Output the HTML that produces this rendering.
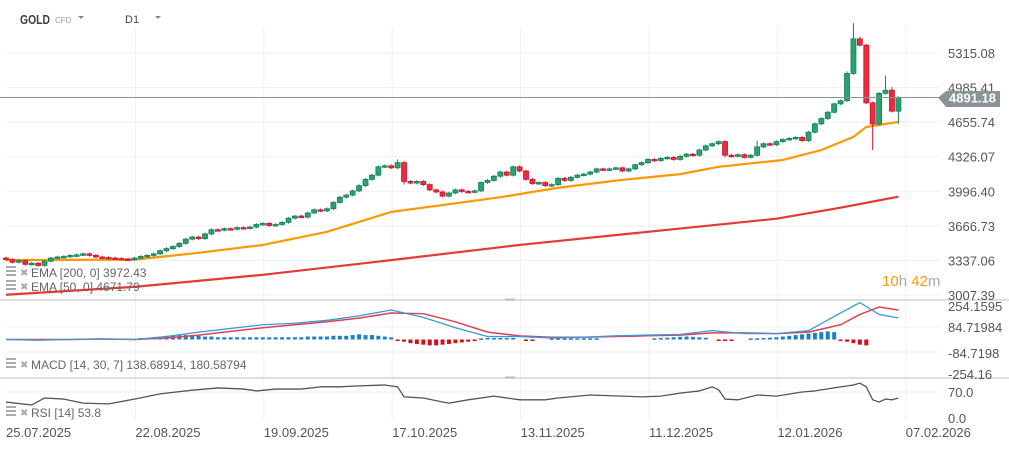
<!DOCTYPE html>
<html><head><meta charset="utf-8"><style>
html,body{margin:0;padding:0;background:#fff;}
#wrap{position:relative;width:1009px;height:449px;overflow:hidden;font-family:"Liberation Sans",sans-serif;}
svg{position:absolute;left:0;top:0;}
</style></head><body>
<div id="wrap">
<svg id="chart" width="1009" height="449"></svg>
</div>
<script>
const closes=[3345,3320,3335,3300,3310,3290,3330,3360,3370,3375,3385,3390,3400,3385,3370,3365,3360,3355,3350,3345,3360,
3375,3385,3400,3430,3450,3470,3500,3540,3560,3545,3590,3630,3625,3640,3635,3650,3645,3655,3680,3690,3670,3680,3700,3740,3760,3750,3790,3820,3810,3830,3890,3940,3960,4000,4050,4110,4150,4230,4240,4220,4270,4090,4075,4090,4060,4010,3990,3950,3980,4010,3995,3990,4000,4080,4100,4140,4180,4150,4230,4190,4110,4070,4080,4050,4060,4120,4100,4130,4150,4160,4180,4210,4200,4210,4220,4190,4210,4250,4270,4300,4290,4310,4320,4300,4330,4350,4340,4390,4430,4450,4470,4340,4330,4345,4320,4340,4420,4450,4440,4470,4490,4500,4510,4480,4560,4640,4690,4750,4830,4860,5120,5450,5390,4840,4638,4930,4960,4760,4891];
const wickHighs={131:5140,132:5600,133:5470,134:5400,137:5100,138:4990,61:4300,117:4480};
const wickLows={135:4390,139:4640,112:4320,62:4060};
const ema50Idx=[0,20,30,40,50,60,68,77,86,96,105,111,121,127,132,134,139];
const ema50Val=[3340,3345,3410,3485,3610,3800,3865,3940,4030,4105,4160,4230,4295,4390,4515,4610,4658];
const ema200Idx=[0,20,40,60,80,100,120,130,139];
const ema200Val=[3010,3085,3200,3340,3485,3610,3735,3840,3945];
const macdIdx=[0,5,10,15,20,25,30,35,40,45,50,55,60,65,70,75,80,85,90,95,100,105,110,115,120,125,130,133,136,139];
const macdVal=[0,-5,0,5,0,20,50,75,100,110,130,160,200,150,80,20,20,10,15,25,30,35,60,40,40,60,180,250,170,146];
const signalVal=[0,0,0,3,0,10,30,55,80,100,120,145,180,175,120,50,25,15,15,20,25,30,45,45,40,50,100,170,220,200];
const hist=[0,0,0,0,0,0,0,0,0,0,0,0,0,0,0,0,0,0,0,0,0,
10,10,15,20,25,25,30,30,25,25,20,20,15,15,15,15,15,15,15,15,15,15,15,15,15,15,20,20,20,20,25,25,25,30,35,30,30,25,20,15,
-10,-15,-25,-30,-35,-40,-40,-35,-30,-25,-20,-15,-10,8,10,10,10,10,10,0,-5,-5,0,0,8,8,8,8,8,8,8,8,0,0,0,0,0,0,0,0,8,10,12,15,18,20,18,15,12,0,-8,-8,-8,0,0,8,8,10,12,15,20,25,30,35,40,45,50,55,50,-10,-15,-25,-35,-40];
const rsiIdx=[0,4,6,9,12,16,20,24,29,33,37,39,42,46,49,52,54,59,61,62,65,68,69,72,76,80,84,86,91,96,99,102,105,108,110,111,112,114,117,120,124,126,130,132,133,134,135,136,137,138,139];
const rsiVal=[43,35,54,51,40,38,51,65,75,81,78,73,78,78,84,84,86,89,84,57,54,43,40,49,59,49,49,54,62,59,57,59,67,73,84,76,51,49,62,59,70,73,84,89,94,84,49,43,51,49,53.8];
const priceTicks=[5315.08,4985.41,4655.74,4326.07,3996.40,3666.73,3337.06,3007.39];
const macdTicks=[254.1595,84.71984,-84.7198,-254.160];
const rsiTicks=[70.0,0.0];
const dateLabels=['25.07.2025','22.08.2025','19.09.2025','17.10.2025','13.11.2025','11.12.2025','12.01.2026','07.02.2026'];
const dateIdx=[0,20,40,60,80,100,120,140];

const NS='http://www.w3.org/2000/svg';
const svg=document.getElementById('chart');
const X=i=>6+6.42*i;
const Y=p=>53+(5315.08-p)*0.10487;
const YM=v=>339.5-v*0.1475;
const YR=v=>418-v*0.371;
function mk(tag,attrs,parent){const e=document.createElementNS(NS,tag);for(const k in attrs)e.setAttribute(k,attrs[k]);(parent||svg).appendChild(e);return e;}
function txt(s,x,y,attrs,name){const t=mk('text',Object.assign({x:x,y:y},attrs));t.textContent=s;


return t;}

const grid=mk('g',{});


priceTicks.forEach(p=>{mk('line',{x1:6,x2:940,y1:Y(p),y2:Y(p),stroke:'#efefef','stroke-width':1},grid);});
[YM(84.72),YM(-84.72)].forEach(y=>mk('line',{x1:6,x2:940,y1:y,y2:y,stroke:'#efefef'},grid));
mk('line',{x1:6,x2:940,y1:YR(70),y2:YR(70),stroke:'#efefef'},grid);
dateIdx.forEach(i=>{if(i>0)mk('line',{x1:X(i)+1,x2:X(i)+1,y1:26,y2:420,stroke:'#efefef'},grid);});
[300,378].forEach(y=>{const l=mk('line',{x1:0,x2:1009,y1:y,y2:y,stroke:'#d4d4d4','stroke-width':1.5});


mk('rect',{x:505,y:y-1.5,width:10,height:2,fill:'#bbb'});});

priceTicks.forEach(p=>txt(p.toFixed(2),948,Y(p)+5,{'font-size':13,fill:'#555'},'price-tick-label'));
macdTicks.forEach((v,k)=>txt(String(v),948,[311,332,358,379][k],{'font-size':13,fill:'#555'},'macd-tick-label'));
rsiTicks.forEach(v=>txt(v.toFixed(1),948,YR(v)+5,{'font-size':13,fill:'#555'},'rsi-tick-label'));
dateLabels.forEach((d,k)=>txt(d,X(dateIdx[k])+(k==0?0:1),437,{'font-size':13,fill:'#555'},'date-label'));

function poly(idx,val,f,color,w,name){const pts=idx.map((i,k)=>X(i)+','+f(val[k])).join(' ');
const l=mk('polyline',{points:pts,fill:'none',stroke:color,'stroke-width':w,'stroke-linejoin':'round'});

return l;}
poly(ema200Idx,ema200Val,Y,'#e53935',2.2,'ema200-line');
poly(ema50Idx,ema50Val,Y,'#ff9800',2.2,'ema50-line');

const cg=mk('g',{});


closes.forEach((c,i)=>{
 const o=i==0?3360:closes[i-1];
 const up=c>=o;
 const hi=wickHighs[i]||Math.max(o,c)+12;
 const lo=wickLows[i]||Math.min(o,c)-12;
 const x=X(i);
 const col=up?'#1a7f57':'#c8192b';
 mk('line',{x1:x,x2:x,y1:Y(hi),y2:Y(lo),stroke:col,'stroke-width':1},cg);
 const yt=Y(Math.max(o,c)),yb=Y(Math.min(o,c));
 const r=mk('rect',{x:x-2.5,y:yt,width:5,height:Math.max(1.5,yb-yt),fill:up?'#27a372':'#ec2a40',stroke:col,'stroke-width':0.8},cg);
 
 
});

const pl=mk('line',{x1:0,x2:940,y1:Y(4891.18),y2:Y(4891.18),stroke:'#8a9294','stroke-width':1});


const tag=mk('path',{d:`M938 ${Y(4891.18)} L946 91 L1000 91 L1000 107 L946 107 Z`,fill:'#8a9497'});


txt('4891.18',949,Y(4891.18)+5,{'font-size':13,fill:'#fff','font-weight':'bold'},'current-price-value');

const tm=mk('text',{x:882,y:286,'font-size':15});


tm.innerHTML='<tspan fill="#ff9800">10</tspan><tspan fill="#aaa">h </tspan><tspan fill="#ff9800">42</tspan><tspan fill="#aaa">m</tspan>';

const hg=mk('g',{});


hist.forEach((v,i)=>{if(v===0)return;const y0=YM(0),y1=YM(v);
 const b=mk('rect',{x:X(i)-2,y:Math.min(y0,y1),width:4,height:Math.max(1.5,Math.abs(y1-y0)),fill:v>0?'#1e7fc6':'#d0101a'},hg);
 
 });
poly(macdIdx,signalVal,YM,'#e04050',1.5,'macd-signal-line');
poly(macdIdx,macdVal,YM,'#3a9ad9',1.3,'macd-line');

poly(rsiIdx,rsiVal,YR,'#555',1.3,'rsi-line');

txt('GOLD',20,24,{'font-size':13,'font-weight':'bold',fill:'#3a4248',textLength:30,lengthAdjust:'spacingAndGlyphs'},'symbol-name');
txt('CFD',55,23,{'font-size':8,fill:'#999'},'symbol-type');
const t1=mk('path',{d:'M78 16 L84 16 L81 19 Z',fill:'#888'});


txt('D1',125,23,{'font-size':11,fill:'#444'},'timeframe-label');
const t2=mk('path',{d:'M155 16 L161 16 L158 19 Z',fill:'#888'});



function legend(s,y,name){
 const g=mk('g',{});
 
 
 mk('rect',{x:6,y:y-9,width:10,height:2,fill:'#aaa'},g);mk('rect',{x:6,y:y-5,width:10,height:2,fill:'#aaa'},g);mk('rect',{x:6,y:y-1,width:10,height:2,fill:'#aaa'},g);
 txt('✖',20,y+1,{'font-size':10,fill:'#aaa'},'remove-indicator-icon');
 txt(s,31,y+2,{'font-size':12,fill:'#666'},'legend-text');}
legend('EMA  [200,  0]  3972.43',275,'ema200-legend');
legend('EMA  [50,  0]  4671.79',289,'ema50-legend');
legend('MACD  [14,  30,  7]  138.68914,    180.58794',367,'macd-legend');
legend('RSI  [14]  53.8',415,'rsi-legend');
</script>
</body></html>
